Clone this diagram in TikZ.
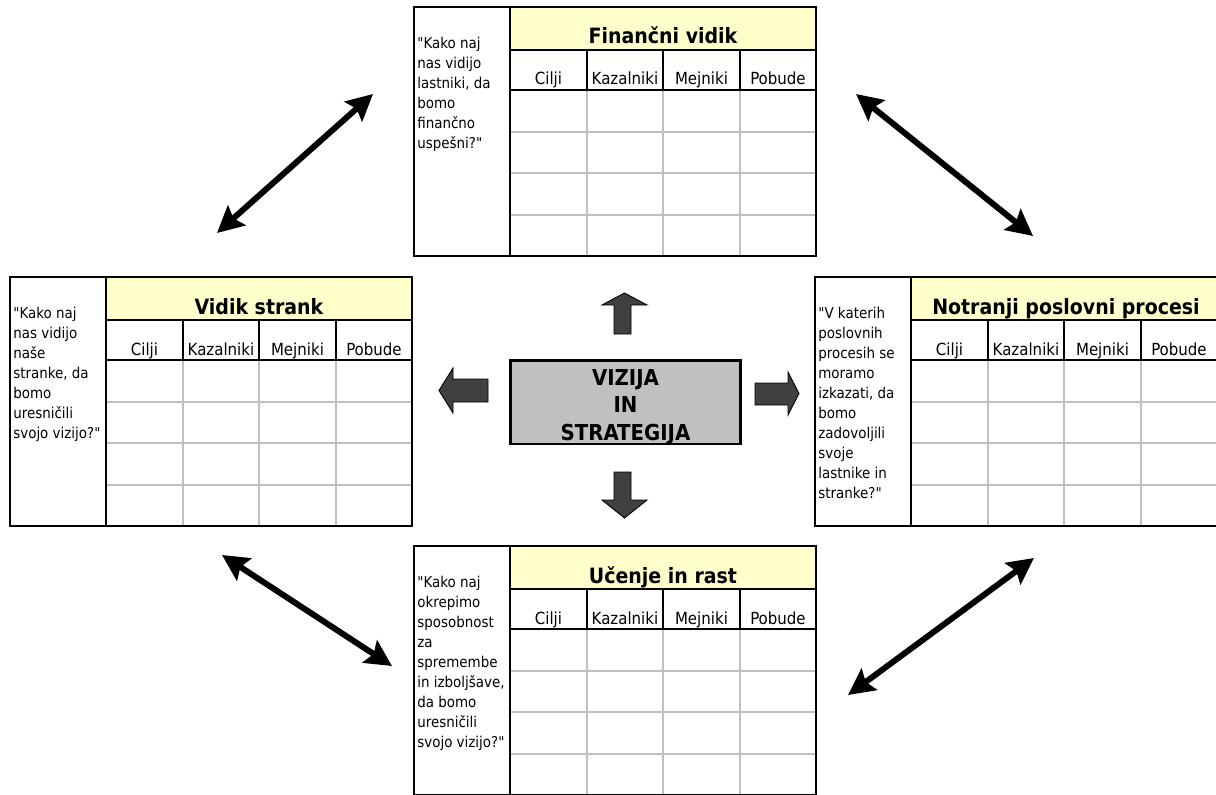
\documentclass[tikz,border=0pt]{standalone}
\usepackage{fontspec}
\setmainfont{DejaVu Sans Condensed}
\usetikzlibrary{arrows.meta}

\definecolor{headyellow}{HTML}{FFFFCC}
\definecolor{gridgray}{HTML}{C0C0C0}
\definecolor{boxgray}{HTML}{C0C0C0}
\definecolor{arrowgray}{HTML}{404040}

\tikzset{
  frame/.style={line width=1.4pt, black},
  blackline/.style={line width=1.1pt, black},
  gridline/.style={line width=1.1pt, gridgray},
  tabletitle/.style={font=\fontsize{12}{14}\selectfont\bfseries, anchor=base, inner sep=0pt},
  colhead/.style={font=\fontsize{9.5}{11}\selectfont, anchor=base, inner sep=0pt},
  question/.style={font=\fontsize{8.5}{11.4}\selectfont, anchor=north west, align=left, inner sep=0pt},
  visionbox/.style={draw, line width=1.7pt, fill=boxgray, minimum width=4.62cm, minimum height=1.68cm, inner sep=0pt},
  visiontext/.style={align=center, inner sep=0pt, font=\fontsize{12.5}{15.6}\selectfont\bfseries},
  blockarrow/.style={fill=arrowgray, draw=black, line width=0.5pt},
  dblarrow/.style={line width=3.4pt,
    {Stealth[length=15pt,width=15pt,inset=2.5pt]}-{Stealth[length=15pt,width=15pt,inset=2.5pt]}},
}

\begin{document}
\begin{tikzpicture}[x=0.02cm, y=-0.02cm]
        \clip (0,0) rectangle (1216,794);

        % Financial perspective, top
        \begin{scope}[shift={(414,7)}]
        \fill[headyellow] (96,0) rectangle (402,43);
        \draw[gridline] (173,83) -- (173,249);
        \draw[gridline] (249,83) -- (249,249);
        \draw[gridline] (326,83) -- (326,249);
        \draw[gridline] (96,125) -- (402,125);
        \draw[gridline] (96,166) -- (402,166);
        \draw[gridline] (96,208) -- (402,208);
        \draw[blackline] (96,43) -- (402,43);
        \draw[blackline] (96,83) -- (402,83);
        \draw[blackline] (173,43) -- (173,83);
        \draw[blackline] (249,43) -- (249,83);
        \draw[blackline] (326,43) -- (326,83);
        \draw[blackline] (96,0) -- (96,249);
        \draw[frame] (0,0) rectangle (402,249);
        \node[tabletitle] (fin-title) at (249,37) {Finančni vidik};
        \node[colhead] (fin-c1) at (134.5,78) {Cilji};
        \node[colhead] (fin-c2) at (211,78) {Kazalniki};
        \node[colhead] (fin-c3) at (287.5,78) {Mejniki};
        \node[colhead] (fin-c4) at (364,78) {Pobude};
        \node[question] (fin-q) at (3,29.5) {\textquotedbl Kako naj\\nas vidijo\\lastniki, da\\bomo\\finančno\\uspešni?\textquotedbl};
        \end{scope}

        % Customer perspective, left
        \begin{scope}[shift={(10,277)}]
        \fill[headyellow] (96,0) rectangle (402,43);
        \draw[gridline] (173,83) -- (173,249);
        \draw[gridline] (249,83) -- (249,249);
        \draw[gridline] (326,83) -- (326,249);
        \draw[gridline] (96,125) -- (402,125);
        \draw[gridline] (96,166) -- (402,166);
        \draw[gridline] (96,208) -- (402,208);
        \draw[blackline] (96,43) -- (402,43);
        \draw[blackline] (96,83) -- (402,83);
        \draw[blackline] (173,43) -- (173,83);
        \draw[blackline] (249,43) -- (249,83);
        \draw[blackline] (326,43) -- (326,83);
        \draw[blackline] (96,0) -- (96,249);
        \draw[frame] (0,0) rectangle (402,249);
        \node[tabletitle] (cus-title) at (249,37) {Vidik strank};
        \node[colhead] (cus-c1) at (134.5,78) {Cilji};
        \node[colhead] (cus-c2) at (211,78) {Kazalniki};
        \node[colhead] (cus-c3) at (287.5,78) {Mejniki};
        \node[colhead] (cus-c4) at (364,78) {Pobude};
        \node[question] (cus-q) at (3,29.5) {\textquotedbl Kako naj\\nas vidijo\\naše\\stranke, da\\bomo\\uresničili\\svojo vizijo?\textquotedbl};
        \end{scope}

        % Internal processes, right
        \begin{scope}[shift={(815,277)}]
        \fill[headyellow] (96,0) rectangle (402,43);
        \draw[gridline] (173,83) -- (173,249);
        \draw[gridline] (249,83) -- (249,249);
        \draw[gridline] (326,83) -- (326,249);
        \draw[gridline] (96,125) -- (402,125);
        \draw[gridline] (96,166) -- (402,166);
        \draw[gridline] (96,208) -- (402,208);
        \draw[blackline] (96,43) -- (402,43);
        \draw[blackline] (96,83) -- (402,83);
        \draw[blackline] (173,43) -- (173,83);
        \draw[blackline] (249,43) -- (249,83);
        \draw[blackline] (326,43) -- (326,83);
        \draw[blackline] (96,0) -- (96,249);
        \draw[frame] (0,0) rectangle (402,249);
        \node[tabletitle] (int-title) at (251,37) {Notranji poslovni procesi};
        \node[colhead] (int-c1) at (134.5,78) {Cilji};
        \node[colhead] (int-c2) at (211,78) {Kazalniki};
        \node[colhead] (int-c3) at (287.5,78) {Mejniki};
        \node[colhead] (int-c4) at (364,78) {Pobude};
        \node[question] (int-q) at (3,29.5) {\textquotedbl V katerih\\poslovnih\\procesih se\\moramo\\izkazati, da\\bomo\\zadovoljili\\svoje\\lastnike in\\stranke?\textquotedbl};
        \end{scope}

        % Learning and growth, bottom
        \begin{scope}[shift={(414,546)}]
        \fill[headyellow] (96,0) rectangle (402,43);
        \draw[gridline] (173,83) -- (173,249);
        \draw[gridline] (249,83) -- (249,249);
        \draw[gridline] (326,83) -- (326,249);
        \draw[gridline] (96,125) -- (402,125);
        \draw[gridline] (96,166) -- (402,166);
        \draw[gridline] (96,208) -- (402,208);
        \draw[blackline] (96,43) -- (402,43);
        \draw[blackline] (96,83) -- (402,83);
        \draw[blackline] (173,43) -- (173,83);
        \draw[blackline] (249,43) -- (249,83);
        \draw[blackline] (326,43) -- (326,83);
        \draw[blackline] (96,0) -- (96,249);
        \draw[frame] (0,0) rectangle (402,249);
        \node[tabletitle] (lrn-title) at (249,37) {Učenje in rast};
        \node[colhead] (lrn-c1) at (134.5,78) {Cilji};
        \node[colhead] (lrn-c2) at (211,78) {Kazalniki};
        \node[colhead] (lrn-c3) at (287.5,78) {Mejniki};
        \node[colhead] (lrn-c4) at (364,78) {Pobude};
        \node[question] (lrn-q) at (3,29.5) {\textquotedbl Kako naj\\okrepimo\\sposobnost\\za\\spremembe\\in izboljšave,\\da bomo\\uresničili\\svojo vizijo?\textquotedbl};
        \end{scope}

        % Vision and strategy in the middle
        \node[visionbox] (vision) at (625.5,402) {};
        \node[visiontext] (vision-text) at (625.5,407) {VIZIJA\\IN\\STRATEGIJA};

        % Block arrows out of the middle
        \draw[blockarrow] (614,334) -- (614,305) -- (602,305) -- (624.5,293) -- (647,305) -- (631,305) -- (631,334) -- cycle;
        \draw[blockarrow] (614,472) -- (614,500) -- (602,500) -- (624.5,518) -- (647,500) -- (631,500) -- (631,472) -- cycle;
        \draw[blockarrow] (488,379) -- (453,379) -- (453,368) -- (439,390.5) -- (453,413) -- (453,402) -- (488,402) -- cycle;
        \draw[blockarrow] (755,383) -- (788,383) -- (788,372) -- (799,393.5) -- (788,415) -- (788,405) -- (755,405) -- cycle;

        % Double arrows between the perspectives
        \coordinate (tl-a) at (217,233);
        \coordinate (tl-b) at (373,94);
        \coordinate (tr-a) at (856,94);
        \coordinate (tr-b) at (1033,236);
        \coordinate (bl-a) at (222,555);
        \coordinate (bl-b) at (392,666);
        \coordinate (br-a) at (1034,558);
        \coordinate (br-b) at (848,695);
        \draw[dblarrow] (tl-a) -- (tl-b);
        \draw[dblarrow] (tr-a) -- (tr-b);
        \draw[dblarrow] (bl-a) -- (bl-b);
        \draw[dblarrow] (br-a) -- (br-b);

\end{tikzpicture}
\end{document}
